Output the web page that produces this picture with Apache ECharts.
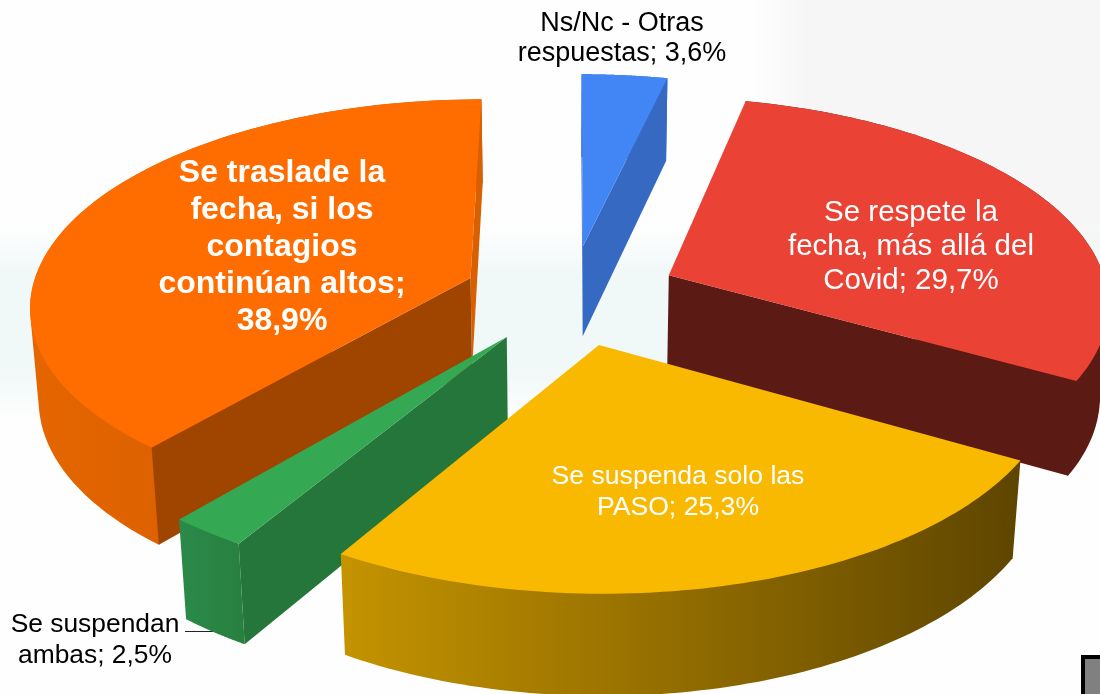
<!DOCTYPE html>
<html><head><meta charset="utf-8">
<style>html,body{margin:0;padding:0;background:#fefefe}#c{width:1100px;height:694px}</style>
<script src="https://cdn.jsdelivr.net/npm/echarts@6/dist/echarts.min.js"></script>
</head><body><div id="c"></div>
<script>
var categories = ['Ns/Nc - Otras\nrespuestas', 'Se respete la\nfecha, más allá del\nCovid', 'Se suspenda solo las\nPASO', 'Se suspendan\nambas', 'Se traslade la\nfecha, si los\ncontagios\ncontinúan altos'];
var values = [3.6, 29.7, 25.3, 2.5, 38.9];
var valueTexts = ['3,6%', '29,7%', '25,3%', '2,5%', '38,9%'];
var joiners = ['; ', '; ', '; ', '; ', ';\n'];

var topColors = ['#4285F4', '#EA4335', '#F8B900', '#34A853', '#FF6D00'];
var innerColors = ['#3569C2', '#5C1A14', '#8A6700', '#24763A', '#A04500'];
var innerSliver = ['#3569C2', '#5C1A14', '#8A6700', '#24763A', '#D96000'];
var outerFrom = ['#3569C2', '#5C1A14', '#C49300', '#2A8A4A', '#E56600'];
var outerTo = ['#3569C2', '#5C1A14', '#5E4500', '#28803F', '#C95400'];
var paintOrder = [1, 2, 5, 4, 3];
var labelX = [622, 911, 678, 95, 282];
var labelY = [39, 247, 492, 640, 247];
var labelColor = ['#000', '#fff', '#fff', '#000', '#fff'];
var labelSize = [27, 29.5, 26.6, 26.4, 32];
var labelLine = [30, 34, 31, 31, 37];
var labelBold = [false, false, false, false, true];

var cx = 571, cy = 295, R = 440, E = 108, tilt = 0.465, persp = 0.00028, H = 93, conv = 0.016;
function project(X, Y, Z) {
  var s = 1 / (1 - persp * Y + conv * Z);
  return [cx + X * s, cy + tilt * Y * s + H * Z * s];
}
var total = values.reduce(function (a, b) { return a + b; }, 0);
var cum = [];
values.reduce(function (a, v, i) { cum[i] = a; return a + v; }, 0);

function convexHull(points) {
  var p = points.slice().sort(function (a, b) { return a[0] - b[0] || a[1] - b[1]; });
  function cross(o, a, b) { return (a[0] - o[0]) * (b[1] - o[1]) - (a[1] - o[1]) * (b[0] - o[0]); }
  function half(list) {
    var h = [];
    list.forEach(function (q) {
      while (h.length >= 2 && cross(h[h.length - 2], h[h.length - 1], q) <= 0) h.pop();
      h.push(q);
    });
    h.pop();
    return h;
  }
  return half(p).concat(half(p.slice().reverse()));
}

function renderItem(params, api) {
  var i = params.dataIndex;
  var v = api.value(0);
  var a0 = cum[i] / total * Math.PI * 2, a1 = a0 + v / total * Math.PI * 2, m = (a0 + a1) / 2;
  var ox = E * Math.sin(m), oy = -E * Math.cos(m);
  var rimT = [], rimB = [], n = 80;
  for (var k = 0; k <= n; k++) {
    var a = a0 + (a1 - a0) * k / n, X = ox + R * Math.sin(a), Y = oy - R * Math.cos(a);
    rimT.push(project(X, Y, 0));
    rimB.push(project(X, Y, 1));
  }
  var apexT = project(ox, oy, 0), apexB = project(ox, oy, 1);
  var base = paintOrder[i] * 10;
  function area(p) {
    var s = 0;
    for (var j = 0; j < p.length; j++) {
      var q = p[(j + 1) % p.length];
      s += p[j][0] * q[1] - q[0] * p[j][1];
    }
    return s;
  }
  var kids = [];
  var xs = rimT.concat(rimB).map(function (p) { return p[0]; });
  var minX = Math.min.apply(null, xs), maxX = Math.max.apply(null, xs);
  kids.push({
    type: 'polygon', z2: base,
    shape: { points: convexHull(rimT.concat(rimB)) },
    style: {
      fill: new echarts.graphic.LinearGradient(minX, 0, maxX, 0, [
        { offset: 0, color: outerFrom[i] }, { offset: 1, color: outerTo[i] }
      ], true)
    }
  });
  var start = [apexT, rimT[0], rimB[0], apexB];
  var end = [apexT, rimT[n], rimB[n], apexB];
  if (area(start) < 0) {
    kids.push({ type: 'polygon', z2: base + 2, shape: { points: start }, style: { fill: innerColors[i] } });
  }
  if (area(end) > 0) {
    kids.push({ type: 'polygon', z2: base + 1, shape: { points: end }, style: { fill: innerSliver[i] } });
  }
  kids.push({
    type: 'polygon', z2: base + 3,
    shape: { points: [apexT].concat(rimT) },
    style: { fill: topColors[i] }
  });
  kids.push({
    type: 'text', z2: 200, x: labelX[i], y: labelY[i],
    style: {
      text: categories[i] + joiners[i] + valueTexts[i],
      align: 'center', verticalAlign: 'middle',
      fontFamily: '"Liberation Sans", Arial, sans-serif',
      fontSize: labelSize[i], lineHeight: labelLine[i],
      fontWeight: labelBold[i] ? 'bold' : 'normal',
      fill: labelColor[i]
    }
  });
  return { type: 'group', children: kids };
}

function fade(color, clear) {
  return [{ offset: 0, color: clear }, { offset: 0.25, color: color }, { offset: 0.75, color: color }, { offset: 1, color: clear }];
}
var chart = echarts.init(document.getElementById('c'), null, { renderer: 'canvas' });
chart.setOption({
  animation: false,
  backgroundColor: '#fefefe',
  graphic: [
    { type: 'rect', z: 0, shape: { x: 750, y: -150, width: 500, height: 420 }, style: { fill: new echarts.graphic.LinearGradient(0, 0, 1, 0, [{ offset: 0, color: 'rgba(246,246,246,0)' }, { offset: 0.12, color: 'rgba(246,246,246,1)' }, { offset: 1, color: 'rgba(246,246,246,1)' }]) } },
    { type: 'rect', z: 0, shape: { x: 0, y: 225, width: 1100, height: 195 }, style: { fill: new echarts.graphic.LinearGradient(0, 0, 0, 1, fade('rgba(241,248,248,1)', 'rgba(241,248,248,0)')) } },
    { type: 'rect', z: 1, shape: { x: 1083, y: 657, width: 30, height: 50 }, style: { fill: '#808080', stroke: '#000', lineWidth: 4 } },
    { type: 'line', z: 1, shape: { x1: 185, y1: 631.5, x2: 216, y2: 631.5 }, style: { stroke: '#222', lineWidth: 1 } }
  ],
  series: [{
    type: 'custom', z: 2, coordinateSystem: 'none', silent: true,
    renderItem: renderItem,
    data: values.map(function (v) { return [v]; })
  }]
});
</script></body></html>
